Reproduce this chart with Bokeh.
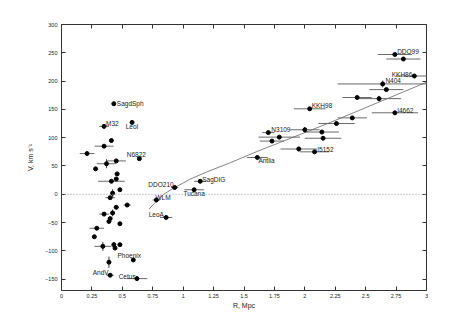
from bokeh.plotting import figure
from bokeh.models import ColumnDataSource, FixedTicker, LinearAxis, Span
from bokeh.core.properties import value
from bokeh.embed import file_html
from bokeh.resources import INLINE

# ---- data ----
R = [0.43, 0.35, 0.58, 0.41, 0.35, 0.21, 0.64, 0.45, 0.37, 0.28,
     0.457, 0.45, 0.41, 0.48, 0.42, 0.40, 0.54, 0.45, 0.35, 0.42,
     0.40, 0.39, 0.48, 0.29, 0.27, 0.43, 0.48, 0.44, 0.34, 0.59,
     0.39, 0.40, 0.62,
     0.93, 1.14, 1.09, 0.78, 0.86,
     1.61, 1.70, 1.79, 1.73, 2.00, 2.14, 2.15, 1.95, 2.08, 2.04,
     2.26, 2.39, 2.43, 2.61, 2.67, 2.64, 2.90, 2.74, 2.81, 2.74]
V = [160, 120, 127, 95, 85, 72, 63, 59, 54, 45,
     36, 27, 23, 8, 2, -6, -19, -23, -35, -33,
     -43, -48, -52, -60, -75, -89, -89, -95, -92, -116,
     -120, -143, -149,
     12, 23, 8, -10, -41,
     65, 109, 101, 94, 114, 110, 99, 80, 75, 151,
     125, 135, 171, 169, 185, 195, 209, 247, 239, 144]
R_err = [0.0, 0.04, 0.01, 0.0, 0.078, 0.06, 0.01, 0.08, 0.08, 0.0,
         0.02, 0.02, 0.11, 0.0, 0.0, 0.04, 0.03, 0.02, 0.04, 0.0,
         0.0, 0.0, 0.0, 0.06, 0.0, 0.0, 0.02, 0.0, 0.07, 0.0,
         0.0, 0.03, 0.085,
         0.03, 0.05, 0.08, 0.03, 0.05,
         0.085, 0.05, 0.17, 0.10, 0.12, 0.14, 0.15, 0.15, 0.12, 0.13,
         0.15, 0.12, 0.12, 0.18, 0.14, 0.37, 0.15, 0.14, 0.14, 0.19]
V_err = [0, 4, 0, 0, 0, 0, 0, 0, 8, 0,
         0, 0, 0, 0, 7, 0, 0, 0, 0, 6,
         0, 0, 0, 0, 0, 5, 0, 0, 8, 0,
         10, 0, 4,
         0, 0, 0, 4, 0,
         0, 0, 0, 0, 5, 0, 0, 4, 0, 0,
         0, 0, 0, 5, 0, 6, 0, 0, 0, 0]
names = ["SagdSph", "M32", "LeoI", "", "", "", "N6822", "", "", "",
         "", "", "", "", "", "", "", "", "", "",
         "", "", "", "", "", "", "", "", "", "Phoenix",
         "", "AndV", "Cetus",
         "DDO210", "SagDIG", "Tucana", "WLM", "LeoA",
         "Antlia", "N3109", "", "", "", "", "", "", "I5152", "KKH98",
         "", "", "", "", "", "N404", "KKH86", "DDO99", "", "I4662"]

# Hubble-flow curve
curve_R = [0.72, 0.80, 0.84, 0.90, 1.00, 1.06, 1.20, 1.39, 1.60, 1.80,
           2.00, 2.21, 2.40, 2.60, 2.80, 3.00]
curve_V = [-26, -8, 0, 8, 20, 27, 40, 56, 75, 92,
           109, 127, 144, 162, 180, 198]

x_ticks = [0, 0.25, 0.5, 0.75, 1, 1.25, 1.5, 1.75, 2, 2.25, 2.5, 2.75, 3]
x_tick_labels = ["0", "0.25", "0.5", "0.75", "1", "1.25", "1.5", "1.75",
                 "2", "2.25", "2.5", "2.75", "3"]
y_ticks = [-150, -100, -50, 0, 50, 100, 150, 200, 250, 300]

# ---- label placement (style: align, dx px, dy px) ----
label_style = {
    "SagdSph": ("left", 3, 0), "M32": ("left", 2, -3), "LeoI": ("center", 0, 4),
    "N6822": ("center", -3, -4.5), "Phoenix": ("center", -4, -4.3),
    "AndV": ("right", -1.5, -3), "Cetus": ("right", -1.3, -2.3),
    "DDO210": ("right", -1, -2.7), "SagDIG": ("left", 2, -2),
    "Tucana": ("center", 0, 3.5), "WLM": ("left", -1, -2.7),
    "LeoA": ("right", -2.3, -3), "Antlia": ("left", 1, 3.3),
    "N3109": ("left", 3, -3), "KKH98": ("left", 2, -3.3),
    "I5152": ("left", 2.7, -2.7), "DDO99": ("left", 2.3, -3),
    "KKH86": ("right", -2, -2), "N404": ("left", 2.7, -3),
    "I4662": ("left", 2.3, -2.7),
}

FONT = "Liberation Sans"

p = figure(width=463, height=318, x_range=(0, 3), y_range=(-170, 300),
           output_backend="svg", toolbar_location=None,
           min_border_left=61, min_border_right=37, min_border_top=24,
           min_border_bottom=28)
p.background_fill_color = "white"
p.border_fill_color = "white"
p.grid.visible = False
p.outline_line_color = "#333333"
p.outline_line_width = 1

for ax in (p.xaxis[0], p.yaxis[0]):
    ax.axis_line_color = None
    ax.major_tick_in = 4
    ax.major_tick_out = 0
    ax.minor_tick_line_color = None
    ax.major_tick_line_color = "#333333"
    ax.major_label_text_font = FONT
    ax.major_label_text_font_size = "5.5px"
    ax.major_label_text_color = "#222222"
    ax.axis_label_text_font = FONT
    ax.axis_label_text_font_size = "7px"
    ax.axis_label_text_font_style = "normal"
    ax.axis_label_text_color = "#222222"

p.xaxis[0].ticker = FixedTicker(ticks=x_ticks)
p.xaxis[0].major_label_overrides = {t: l for t, l in zip(x_ticks, x_tick_labels)}
p.xaxis[0].major_label_standoff = 3
p.xaxis[0].axis_label = "R, Mpc"
p.xaxis[0].axis_label_standoff = 1
p.yaxis[0].ticker = FixedTicker(ticks=y_ticks)
p.yaxis[0].major_label_standoff = 4
p.yaxis[0].axis_label = "V, km s⁻¹"
p.yaxis[0].axis_label_standoff = 8

top = LinearAxis(ticker=FixedTicker(ticks=x_ticks))
right = LinearAxis(ticker=FixedTicker(ticks=y_ticks))
for ax in (top, right):
    ax.axis_line_color = None
    ax.major_tick_in = 4
    ax.major_tick_out = 0
    ax.minor_tick_line_color = None
    ax.major_tick_line_color = "#333333"
    ax.major_label_text_font_size = "5px"
    ax.major_label_text_color = None
    ax.major_label_standoff = 0
p.add_layout(top, "above")
p.add_layout(right, "right")

# zero line
p.add_layout(Span(location=0, dimension="width", line_color="#999999",
                  line_dash="1 2", line_width=1))

# curve
p.line(curve_R, curve_V, line_color="#777777", line_width=0.9)

# error bars
src = ColumnDataSource(dict(
    x=R, y=V,
    x0=[r - e for r, e in zip(R, R_err)], x1=[r + e for r, e in zip(R, R_err)],
    y0=[v - e for v, e in zip(V, V_err)], y1=[v + e for v, e in zip(V, V_err)],
))
p.segment(x0="x0", y0="y", x1="x1", y1="y", source=src,
          line_color="#6a6a6a", line_width=1)
p.segment(x0="x", y0="y0", x1="x", y1="y1", source=src,
          line_color="#444444", line_width=1)

# points
p.scatter("x", "y", source=src, marker="circle", size=4,
          fill_color="black", line_color="black")

# labels
lx, ly, lt, la, ldx, ldy = [], [], [], [], [], []
for r, v, n in zip(R, V, names):
    if n:
        a, dx, dy = label_style[n]
        lx.append(r); ly.append(v); lt.append(n)
        la.append(a); ldx.append(dx); ldy.append(dy)
lsrc = ColumnDataSource(dict(x=lx, y=ly, text=lt, align=la, dx=ldx, dy=ldy))
p.text(x="x", y="y", text="text", source=lsrc, text_align="align",
       text_baseline="middle", x_offset="dx", y_offset="dy",
       text_font=value(FONT), text_font_size="6.5px", text_color="#222222")

open("out.html", "w").write(file_html(p, INLINE))
